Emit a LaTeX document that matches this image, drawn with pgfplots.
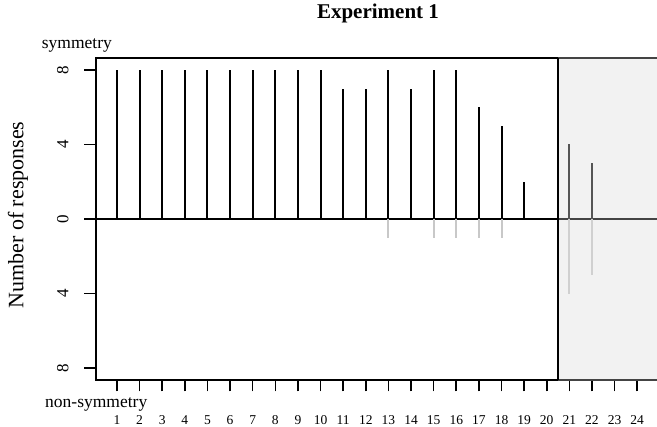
\documentclass[border=0pt]{standalone}
\usepackage{fontspec}
\setmainfont{Liberation Serif}
\usepackage{pgfplots}
\pgfplotsset{compat=1.18}
\definecolor{regfill}{HTML}{F2F2F2}
\definecolor{darkbar}{HTML}{555555}
\definecolor{darkline}{HTML}{444444}
\definecolor{lightbar}{HTML}{C8C8C8}
\definecolor{lightbarB}{HTML}{D0D0D0}
\begin{document}
\begin{tikzpicture}
\useasboundingbox (-96pt,-47pt) rectangle (561pt,380pt);
\begin{axis}[
  at={(0pt,0pt)}, anchor=south west,
  scale only axis, width=561pt, height=322pt,
  xmin=0.072, xmax=24.875, ymin=-8.64, ymax=8.64,
  axis line style={draw=none},
  clip=false,
  xtick={1,...,24},
  ytick={-8,-4,0,4,8}, yticklabels={8,4,0,4,8},
  tick align=outside, tick pos=left,
  major tick length=11.5pt,
  every tick/.style={black, line width=1.6pt},
  /pgf/number format/assume math mode=true,
  xticklabel style={font=\fontsize{13.5}{14}\selectfont, text height=9.2pt, text depth=0pt, yshift=-20pt},
  yticklabel style={font=\fontsize{17}{18}\selectfont, rotate=90, anchor=south, yshift=12.5pt},
]
\fill[regfill] (axis cs:20.5,-8.64) rectangle (axis cs:24.875,8.64);
% zero line
\draw[black, line width=1.6pt] (axis cs:0.072,0) -- (axis cs:20.5,0);
\draw[darkline, line width=1.6pt] (axis cs:20.5,0) -- (axis cs:24.875,0);
% bars
\addplot[ycomb, black, line width=2pt, mark=none] coordinates {
  (1,8) (2,8) (3,8) (4,8) (5,8) (6,8) (7,8) (8,8) (9,8) (10,8)
  (11,7) (12,7) (13,8) (14,7) (15,8) (16,8) (17,6) (18,5) (19,2)
};
\addplot[ycomb, lightbar, line width=2pt, mark=none] coordinates {
  (13,-1) (15,-1) (16,-1) (17,-1) (18,-1)
};
\addplot[ycomb, darkbar, line width=2pt, mark=none] coordinates {
  (21,4) (22,3)
};
\addplot[ycomb, lightbarB, line width=2pt, mark=none] coordinates {
  (21,-4) (22,-3)
};
% frame
\draw[black, line width=1.8pt] (axis cs:20.5,8.64) -- (axis cs:0.072,8.64) -- (axis cs:0.072,-8.64) -- (axis cs:20.5,-8.64);
\draw[darkline, line width=1.8pt] (axis cs:20.5,8.64) -- (axis cs:24.875,8.64);
\draw[darkline, line width=1.8pt] (axis cs:20.5,-8.64) -- (axis cs:24.875,-8.64);
\draw[black, line width=1.8pt] (axis cs:20.5,-8.64) -- (axis cs:20.5,8.64);
\end{axis}
\node[anchor=base, font=\fontsize{21}{24}\selectfont\bfseries] at (282pt,361pt) {Experiment 1};
\node[anchor=base west, inner sep=0pt, font=\fontsize{17.5}{20}\selectfont] at (-54.3pt,331pt) {symmetry};
\node[anchor=base west, inner sep=0pt, font=\fontsize{17.5}{20}\selectfont] at (-51pt,-28pt) {non-symmetry};
\node[anchor=base, rotate=90, inner sep=0pt, font=\fontsize{22}{24}\selectfont] at (-72.7pt,165pt) {Number of responses};
\end{tikzpicture}
\end{document}
